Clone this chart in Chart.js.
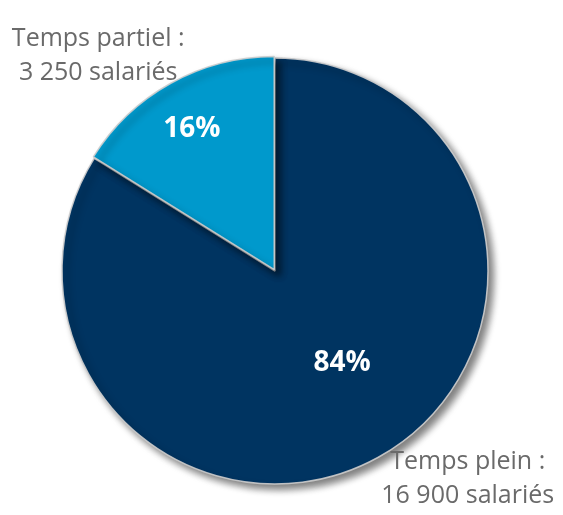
<!DOCTYPE html>
<html>
<head>
<meta charset="utf-8">
<script src="https://cdn.jsdelivr.net/npm/chart.js@4"></script>
<style>
  html, body { margin: 0; padding: 0; background: #fff; }
  #wrap { width: 563px; height: 515px; position: relative; }
</style>
</head>
<body>
<div id="wrap"><canvas id="pieChart"></canvas></div>
<script>
// data
const categories = ['Temps plein', 'Temps partiel'];
const salaries = [16900, 3250];
const percentLabels = ['84%', '16%'];
const outerLabels = [['Temps plein :', '16 900 salariés'], ['Temps partiel :', '3 250 salariés']];

const COLORS = ['#003461', '#0099cc'];
const TEXT_GREY = '#6a6a6a';
const FONT = '"Open Sans", Lato, sans-serif';

// where the labels sit, in units of the pie radius from the centre
const pctPos = [{ x: 0.315, y: 0.43 }, { x: -0.39, y: -0.665 }];
const outerPos = [{ x: 0.905, y: 0.93 }, { x: -0.83, y: -1.055 }];

// soft grey shadow under the pie
const shadowPlugin = {
  id: 'pieShadow',
  beforeDatasetDraw(chart) {
    const ctx = chart.ctx;
    ctx.save();
    ctx.shadowColor = 'rgba(0,0,0,.5)';
    ctx.shadowBlur = 7;
    ctx.shadowOffsetX = 5;
    ctx.shadowOffsetY = 5;
  },
  afterDatasetDraw(chart) { chart.ctx.restore(); }
};

const labelPlugin = {
  id: 'pieLabels',
  afterDraw(chart) {
    const ctx = chart.ctx;
    const arcs = chart.getDatasetMeta(0).data;
    const cx = arcs[0].x, cy = arcs[0].y, r = arcs[0].outerRadius;
    ctx.save();
    ctx.textAlign = 'center';
    ctx.textBaseline = 'middle';
    ctx.fillStyle = '#fff';
    ctx.font = 'bold 28px ' + FONT;
    percentLabels.forEach((t, i) => ctx.fillText(t, cx + pctPos[i].x * r, cy + pctPos[i].y * r));
    ctx.fillStyle = TEXT_GREY;
    ctx.font = '25px ' + FONT;
    ctx.textBaseline = 'alphabetic';
    outerLabels.forEach((lines, i) => {
      lines.forEach((t, j) => ctx.fillText(t, cx + outerPos[i].x * r, cy + outerPos[i].y * r + j * 34));
    });
    ctx.restore();
  }
};

new Chart(document.getElementById('pieChart').getContext('2d'), {
  type: 'pie',
  data: {
    labels: categories,
    datasets: [{
      data: salaries,
      backgroundColor: COLORS,
      borderColor: 'rgba(205,205,205,.9)',
      borderWidth: 1.5,
      offset: [0, 6],
      hoverOffset: 0
    }]
  },
  options: {
    responsive: true,
    maintainAspectRatio: false,
    animation: false,
    radius: 213,
    layout: { padding: { left: 20, right: 33, top: 40, bottom: 13 } },
    plugins: { legend: { display: false }, tooltip: { enabled: false } },
    events: []
  },
  plugins: [shadowPlugin, labelPlugin]
});
</script>
</body>
</html>
